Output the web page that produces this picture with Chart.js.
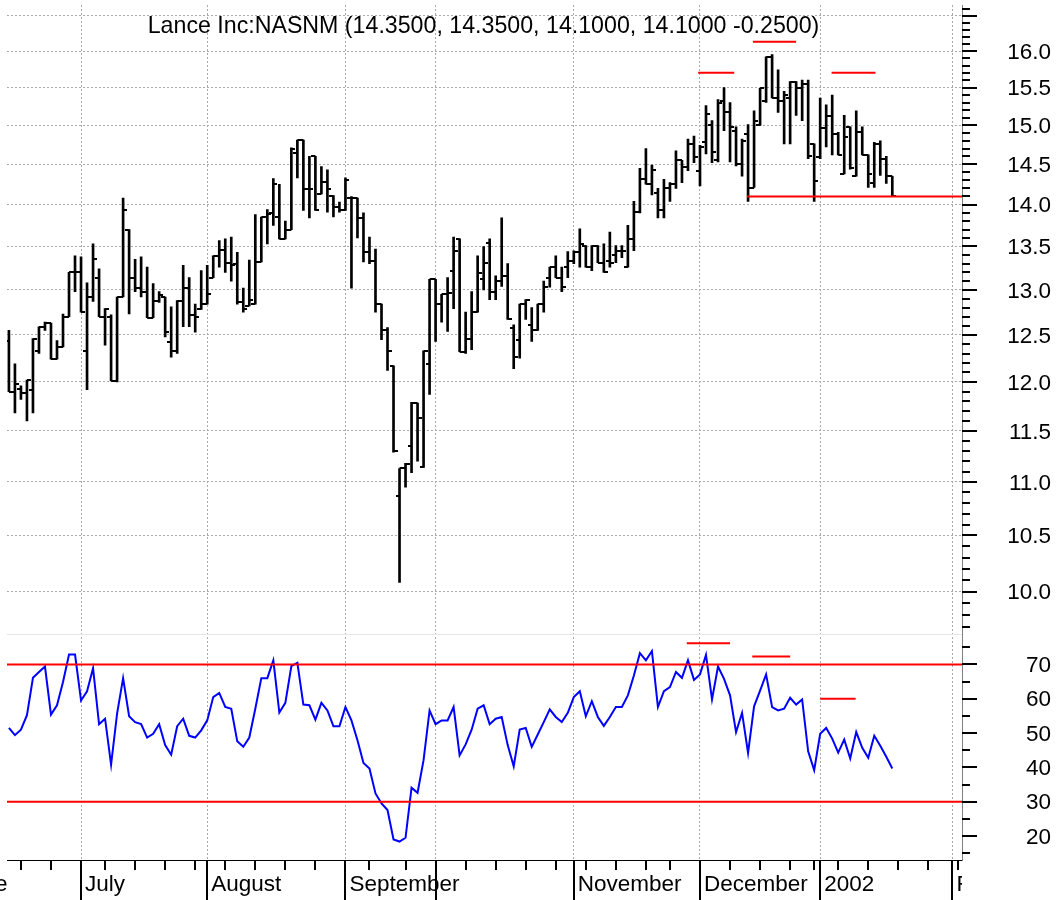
<!DOCTYPE html>
<html><head><meta charset="utf-8">
<script src="https://cdn.jsdelivr.net/npm/chart.js@4/dist/chart.umd.min.js"></script>
<style>html,body{margin:0;padding:0;background:#fff}#wrap{width:1061px;height:900px}</style>
</head><body><div id="wrap"><canvas id="c" width="1061" height="900"></canvas></div>
<script>
const titleText = 'Lance Inc:NASNM (14.3500, 14.3500, 14.1000, 14.1000 -0.2500)';
const opens = [12.44,11.90,11.93,11.88,11.92,12.33,12.59,12.63,12.24,12.37,
12.70,13.20,13.20,12.33,12.92,13.13,12.70,12.70,12.01,12.92,
13.70,13.14,13.02,12.98,12.69,12.88,12.92,12.42,12.33,12.88,
13.02,12.72,12.78,12.84,13.14,13.39,13.46,13.31,13.30,12.86,
12.82,12.84,13.32,13.85,13.90,13.85,13.59,13.70,14.64,14.81,
14.19,14.60,14.13,14.28,14.11,13.97,13.94,14.08,14.08,13.84,
13.43,13.33,12.84,12.55,12.17,10.87,11.13,11.35,11.78,11.14,
12.19,13.12,12.84,12.95,13.22,13.59,12.32,12.46,12.75,13.12,
13.54,12.98,13.10,13.16,12.58,12.45,12.84,12.61,12.55,12.84,
13.14,13.26,13.14,13.26,13.33,13.43,13.51,13.26,13.51,13.31,
13.33,13.40,13.45,13.26,13.59,13.91,14.31,14.25,14.14,13.93,
14.20,14.25,14.55,14.47,14.76,14.42,14.78,15.00,14.55,15.32,
15.17,14.93,14.50,14.89,14.21,15.00,15.32,15.92,15.36,15.32,
15.36,15.58,15.50,15.55,14.76,14.59,14.96,15.12,14.89,14.38,
14.98,14.35,14.91,14.62,14.27,14.76,14.57,14.35];
const highs = [12.55,12.19,11.96,12.02,12.46,12.59,12.64,12.63,12.44,12.73,
13.20,13.39,13.38,13.08,13.53,13.24,12.79,12.72,12.92,14.08,
13.70,13.35,13.38,13.26,13.07,12.98,12.92,12.81,12.88,13.28,
13.14,12.84,13.22,13.28,13.39,13.57,13.59,13.61,13.43,13.02,
13.34,13.88,13.85,13.94,14.32,14.25,13.80,14.71,14.81,14.81,
14.60,14.60,14.47,14.43,14.11,14.03,14.33,14.10,14.08,13.90,
13.61,13.47,12.84,12.58,12.17,11.13,11.18,11.79,11.78,12.33,
13.12,13.12,12.95,13.14,13.61,13.59,12.75,12.98,13.39,13.50,
13.59,13.16,13.84,13.30,12.61,12.84,12.89,12.80,12.84,13.10,
13.26,13.39,13.26,13.44,13.45,13.71,13.51,13.51,13.51,13.53,
13.67,13.51,13.51,13.75,14.04,14.45,14.70,14.49,14.20,14.31,
14.27,14.67,14.55,14.82,14.86,14.74,15.26,15.06,15.34,15.50,
15.30,14.98,14.82,15.01,15.19,15.49,15.92,15.95,15.74,15.45,
15.58,15.58,15.60,15.60,14.76,15.36,15.27,15.40,14.91,15.13,
14.98,15.19,14.98,14.62,14.78,14.80,14.60,14.35];
const lows = [11.90,11.68,11.82,11.60,11.68,12.30,12.55,12.24,12.24,12.37,
12.70,12.98,12.75,11.92,12.87,12.70,12.39,12.01,12.00,12.92,
12.73,12.98,12.92,12.69,12.69,12.86,12.48,12.26,12.30,12.59,
12.59,12.53,12.78,12.84,13.14,13.26,13.20,13.10,12.84,12.75,
12.82,12.84,13.32,13.53,13.75,13.59,13.59,13.70,14.33,13.93,
13.84,13.93,14.13,13.91,13.85,13.91,13.93,13.02,13.60,13.32,
13.30,12.75,12.45,12.12,11.29,10.08,10.95,11.09,11.20,11.14,
11.87,12.43,12.64,12.54,12.79,12.32,12.30,12.34,12.75,13.00,
12.89,12.89,13.04,12.67,12.14,12.25,12.67,12.43,12.55,12.75,
13.03,13.14,12.98,13.14,13.30,13.26,13.26,13.22,13.31,13.20,
13.26,13.31,13.37,13.26,13.45,13.90,14.25,14.12,13.84,13.84,
14.04,14.20,14.27,14.42,14.52,14.23,14.63,14.52,14.53,14.93,
14.53,14.48,14.35,14.04,14.21,15.00,15.30,15.36,15.17,14.76,
14.76,15.13,15.06,14.57,14.04,14.57,14.72,14.62,14.62,14.38,
14.44,14.35,14.62,14.21,14.21,14.36,14.26,14.10];
const closes = [11.90,11.98,11.88,12.02,12.46,12.59,12.63,12.24,12.37,12.70,
13.20,13.20,12.75,12.92,13.35,12.70,12.79,12.01,12.92,13.94,
13.14,13.02,12.98,12.69,12.88,12.94,12.53,12.33,12.88,13.02,
12.72,12.70,12.84,12.95,13.39,13.46,13.31,13.28,12.86,12.78,
12.89,13.32,13.85,13.89,14.25,13.59,13.70,14.70,14.81,14.19,
14.19,13.93,14.28,14.19,13.97,13.94,14.30,14.08,13.84,13.43,
13.33,12.84,12.55,12.33,11.30,11.13,11.17,11.78,11.63,12.33,
13.12,12.84,12.95,12.96,13.45,12.32,12.46,12.75,13.19,13.31,
12.98,13.10,13.16,12.67,12.26,12.84,12.89,12.55,12.84,13.03,
13.26,13.14,13.03,13.33,13.43,13.53,13.26,13.51,13.31,13.20,
13.31,13.45,13.45,13.59,13.91,14.31,14.25,14.43,13.93,14.20,
14.25,14.55,14.47,14.76,14.59,14.72,15.15,14.65,15.30,15.17,
14.98,14.50,14.80,14.21,15.06,15.49,15.92,15.36,15.32,15.40,
15.58,15.50,15.55,14.60,14.29,14.96,15.12,14.89,14.62,14.85,
14.45,14.91,14.62,14.38,14.76,14.57,14.35,14.10];
const rsi = [51.5,49.4,51.0,55.2,66.1,67.8,69.4,55.4,58.1,64.9,
72.9,72.9,59.5,62.2,68.9,52.6,54.2,40.8,55.7,66.0,
54.9,53.2,52.6,48.7,49.8,52.6,46.5,43.7,52.0,54.2,
49.2,48.7,50.8,53.7,60.5,61.7,57.6,57.1,47.6,46.0,
48.7,57.1,66.0,66.0,71.2,56.0,58.8,69.5,70.5,58.3,
58.1,53.9,58.8,56.6,52.0,52.0,57.6,53.7,47.9,41.3,
39.7,32.4,29.5,27.6,19.0,18.4,19.5,34.1,32.6,42.1,
56.6,52.6,53.7,53.7,57.6,43.5,46.7,51.0,57.1,58.1,
52.6,54.2,54.7,46.5,40.3,51.0,51.5,46.0,49.6,53.2,
56.9,54.7,53.2,55.9,60.5,62.2,54.9,59.3,54.7,52.1,
54.7,57.6,57.6,61.0,66.8,73.3,71.2,73.9,57.6,62.2,
63.4,67.8,66.1,71.2,65.5,67.1,72.8,59.8,69.4,65.8,
61.0,50.3,55.9,44.2,57.8,62.4,67.1,57.6,56.6,57.1,
60.3,58.3,59.8,44.7,39.2,49.8,51.5,48.4,44.3,48.1,
42.6,50.3,45.7,42.8,49.2,46.3,43.1,39.7];

// x axis: trading-day index, month & week ticks
const xMin = -0.32, xMax = 158.6;
const monthTicks = [-9, 12, 33, 56, 71, 94, 115, 135, 157];
const monthLabels = ['June', 'July', 'August', 'September', '', 'November', 'December', '2002', 'February'];
const weekTicks = [2,7,16,21,26,31,36,41,46,51,60,66,76,81,86,91,96,101,106,110,120,125,130,134,138,143,148,153,158];

// y axes
const priceMin = 9.642, priceMax = 16.654;
const priceTicks = [10, 10.5, 11, 11.5, 12, 12.5, 13, 13.5, 14, 14.5, 15, 15.5, 16, 16.5];
const priceLabels = ['10.0','10.5','11.0','11.5','12.0','12.5','13.0','13.5','14.0','14.5','15.0','15.5','16.0',''];
const rsiMin = 13.02, rsiMax = 79.01;
const rsiTicks = [20, 30, 40, 50, 60, 70];
const rsiLabels = ['20', '30', '40', '50', '60', '70'];

// red level lines
const priceLevelValues = [15.70, 16.13, 15.70, 14.10];
const priceLevelFrom = [114.7, 123.8, 136.9, 122.8];
const priceLevelTo = [120.7, 131.0, 144.2, xMax];
const rsiBandValues = [70, 30];
const rsiLevelValues = [76.2, 72.3, 60.0];
const rsiLevelFrom = [112.8, 123.7, 135.0];
const rsiLevelTo = [120.0, 130.0, 140.9];

const FONT = "'Liberation Sans', Arial, sans-serif";
const FS = 22.5;
const TITLE_FS = 23.2;

function tickImage(left) {
  const c = document.createElement('canvas');
  c.width = 8; c.height = 2;
  const g = c.getContext('2d');
  g.fillStyle = '#000';
  g.fillRect(left ? 0 : 4, 0, 4, 2);
  return c;
}
const openImg = tickImage(true), closeImg = tickImage(false);

const idx = opens.map((_, i) => i);
const datasets = [];
priceLevelValues.forEach((v, k) => datasets.push({
  type: 'line', yAxisID: 'y', order: 0, borderColor: '#ff0000', borderWidth: 2, pointRadius: 0,
  data: [{x: priceLevelFrom[k], y: v}, {x: priceLevelTo[k], y: v}]
}));
rsiBandValues.forEach(v => datasets.push({
  type: 'line', yAxisID: 'y2', order: 0, borderColor: '#ff0000', borderWidth: 2, pointRadius: 0,
  data: [{x: xMin, y: v}, {x: xMax, y: v}]
}));
rsiLevelValues.forEach((v, k) => datasets.push({
  type: 'line', yAxisID: 'y2', order: 0, borderColor: '#ff0000', borderWidth: 2, pointRadius: 0,
  data: [{x: rsiLevelFrom[k], y: v}, {x: rsiLevelTo[k], y: v}]
}));
datasets.push({
  type: 'line', yAxisID: 'y2', order: 1, borderColor: '#0000ff', borderWidth: 2, pointRadius: 0, tension: 0,
  data: idx.map(i => ({x: i, y: rsi[i]}))
});
datasets.push({
  type: 'bar', yAxisID: 'y', order: 3, backgroundColor: '#000', borderWidth: 0, barThickness: 2, grouped: false,
  data: idx.map(i => ({x: i, y: [lows[i], highs[i]]}))
});
datasets.push({
  type: 'scatter', yAxisID: 'y', order: 2, pointStyle: openImg, pointRadius: 2,
  data: idx.map(i => ({x: i, y: opens[i]}))
});
datasets.push({
  type: 'scatter', yAxisID: 'y', order: 2, pointStyle: closeImg, pointRadius: 2,
  data: idx.map(i => ({x: i, y: closes[i]}))
});

const overlay = {
  id: 'overlay',
  afterDraw(chart) {
    const {ctx, chartArea: a, scales} = chart;
    const xs = scales.x, yp = scales.y, yr = scales.y2;
    ctx.save();
    ctx.fillStyle = '#e6e6e6';
    ctx.fillRect(a.left, Math.round(yr.top), a.right - a.left, 1);
    ctx.fillStyle = '#000';
    const ytick = (y, len) => ctx.fillRect(a.right, Math.round(y) - 1, len, 2);
    for (let v = 97; v <= 166; v++) ytick(yp.getPixelForValue(v / 10), v % 5 === 0 ? 15 : 8);
    for (let v = 15; v <= 75; v += 5) ytick(yr.getPixelForValue(v), v % 10 === 0 ? 15 : 8);
    ctx.fillRect(a.left, a.bottom, a.right - a.left, 1);
    weekTicks.forEach(t => {
      const x = xs.getPixelForValue(t);
      if (x >= a.left && x <= a.right) ctx.fillRect(Math.round(x) - 1, a.bottom, 2, 10);
    });
    monthTicks.forEach(t => {
      const x = xs.getPixelForValue(t);
      if (x >= a.left && x <= a.right) ctx.fillRect(Math.round(x) - 1, a.bottom, 2, 40);
    });
    ctx.save();
    ctx.beginPath(); ctx.rect(0, a.bottom, a.right, 40); ctx.clip();
    ctx.font = FS + 'px ' + FONT;
    ctx.textAlign = 'left'; ctx.textBaseline = 'alphabetic';
    monthTicks.forEach((t, i) => {
      if (monthLabels[i]) ctx.fillText(monthLabels[i], xs.getPixelForValue(t) + 4, 891);
    });
    ctx.restore();
    ctx.font = TITLE_FS + 'px ' + FONT;
    ctx.fillStyle = '#000';
    ctx.textAlign = 'center'; ctx.textBaseline = 'alphabetic';
    ctx.fillText(titleText, (a.left + a.right) / 2 - 1, 33);
    ctx.restore();
  }
};

const noPad = s => { s.paddingTop = 0; s.paddingBottom = 0; s.paddingLeft = 0; s.paddingRight = 0; };

new Chart(document.getElementById('c'), {
  type: 'bar',
  data: {datasets},
  plugins: [overlay],
  options: {
    responsive: false, animation: false, devicePixelRatio: 1,
    layout: {padding: {left: 7, top: 3, right: 10, bottom: 0}},
    plugins: {legend: {display: false}, tooltip: {enabled: false}, title: {display: false}},
    scales: {
      x: {
        type: 'linear', position: 'bottom', min: xMin, max: xMax, bounds: 'data', offset: false,
        afterBuildTicks: s => { s.ticks = monthTicks.filter(v => v >= xMin && v <= xMax).map(v => ({value: v})); },
        afterFit: s => { s.height = 40; noPad(s); },
        ticks: {display: false},
        grid: {color: '#aaaaaa', lineWidth: 1, drawTicks: false, offset: false},
        border: {display: false, dash: [2, 2]}
      },
      y: {
        type: 'logarithmic', position: 'right', stack: 'panes', stackWeight: 630,
        min: priceMin, max: priceMax, bounds: 'data',
        afterBuildTicks: s => { s.ticks = priceTicks.map(v => ({value: v})); },
        afterFit: s => { s.width = 89; noPad(s); },
        ticks: {callback: (v, i) => priceLabels[i], color: '#000', font: {family: FONT, size: FS},
                crossAlign: 'far', padding: 0, autoSkip: false, labelOffset: 1.5},
        grid: {color: '#aaaaaa', lineWidth: 1, drawTicks: false},
        border: {display: true, color: '#808080', width: 1, dash: [2, 2]}
      },
      y2: {
        type: 'linear', position: 'right', stack: 'panes', stackWeight: 227,
        min: rsiMin, max: rsiMax, bounds: 'data',
        afterBuildTicks: s => { s.ticks = rsiTicks.map(v => ({value: v})); },
        afterFit: s => { s.width = 89; noPad(s); },
        ticks: {callback: (v, i) => rsiLabels[i], color: '#000', font: {family: FONT, size: FS},
                crossAlign: 'far', padding: 0, autoSkip: false, labelOffset: 1.5},
        grid: {display: false, drawTicks: false},
        border: {display: true, color: '#808080', width: 1}
      }
    }
  }
});
</script></body></html>
